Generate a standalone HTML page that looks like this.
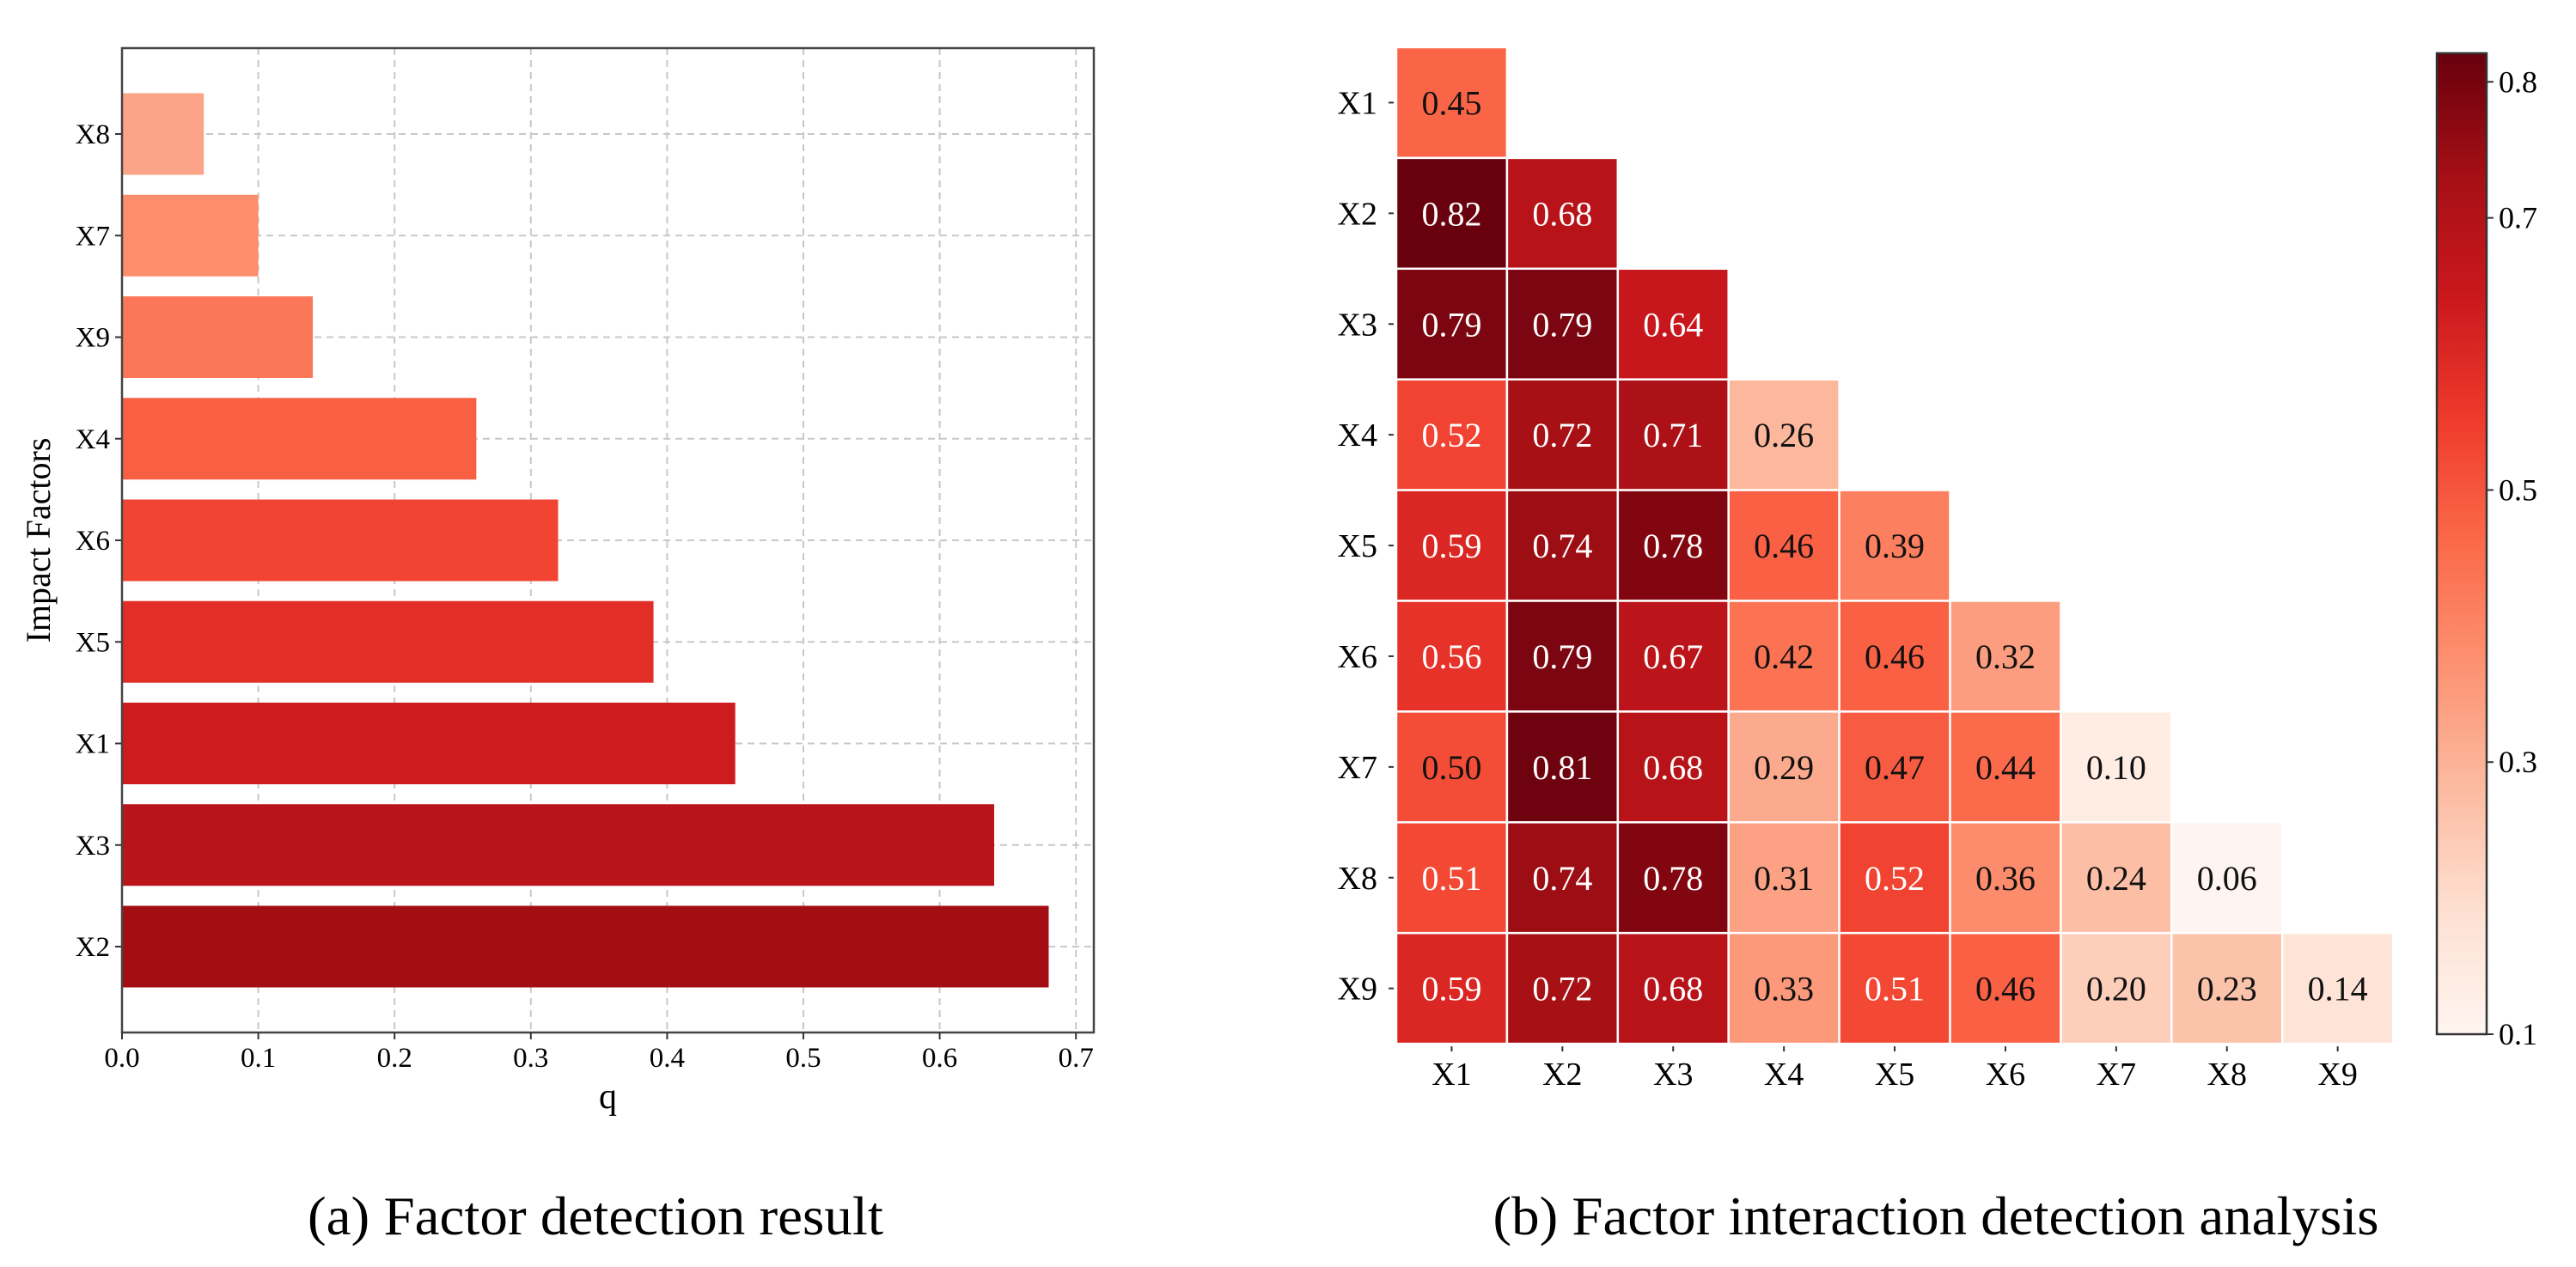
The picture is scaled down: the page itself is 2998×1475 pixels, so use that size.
<!DOCTYPE html>
<html><head><meta charset="utf-8"><style>
html,body{margin:0;padding:0;background:#fff;}
svg{display:block;font-family:"Liberation Serif",serif;}
</style></head>
<body>
<svg id="fig" width="2998" height="1475" viewBox="0 0 2998 1475" xmlns="http://www.w3.org/2000/svg">
<defs>
<linearGradient id="cbgrad" x1="0" y1="1" x2="0" y2="0">
<stop offset="0" stop-color="#fff5f0"/><stop offset="0.125" stop-color="#fee0d2"/><stop offset="0.25" stop-color="#fcbba1"/><stop offset="0.375" stop-color="#fc9272"/><stop offset="0.5" stop-color="#fb6a4a"/><stop offset="0.625" stop-color="#ef3b2c"/><stop offset="0.75" stop-color="#cb181d"/><stop offset="0.875" stop-color="#a50f15"/><stop offset="1" stop-color="#67000d"/>
</linearGradient>
</defs>
<g id="left"></g>
<g id="right"></g>
<text x="693" y="1437" font-size="64" text-anchor="middle" textLength="670" lengthAdjust="spacingAndGlyphs">(a) Factor detection  result</text>
<text x="2253" y="1437" font-size="64" text-anchor="middle" textLength="1031" lengthAdjust="spacingAndGlyphs">(b) Factor interaction detection  analysis</text>
</svg>
<script>
// ---- bar chart data ----
const barCategories = ["X8","X7","X9","X4","X6","X5","X1","X3","X2"];
const barValues = [0.06,0.10,0.14,0.26,0.32,0.39,0.45,0.64,0.68];
const xTicks = [0.0,0.1,0.2,0.3,0.4,0.5,0.6,0.7];
// ---- heatmap data ----
const hmLabels = ["X1","X2","X3","X4","X5","X6","X7","X8","X9"];
const hmRows = [
 [0.45],
 [0.82,0.68],
 [0.79,0.79,0.64],
 [0.52,0.72,0.71,0.26],
 [0.59,0.74,0.78,0.46,0.39],
 [0.56,0.79,0.67,0.42,0.46,0.32],
 [0.50,0.81,0.68,0.29,0.47,0.44,0.10],
 [0.51,0.74,0.78,0.31,0.52,0.36,0.24,0.06],
 [0.59,0.72,0.68,0.33,0.51,0.46,0.20,0.23,0.14]
];
const cbTicks = [0.8,0.7,0.5,0.3,0.1];

const NS="http://www.w3.org/2000/svg";
function mk(parent,tag,attrs,text){const e=document.createElementNS(NS,tag);for(const k in attrs)e.setAttribute(k,attrs[k]);if(text!==undefined)e.textContent=text;parent.appendChild(e);return e;}
const redsStops=["#fff5f0","#fee0d2","#fcbba1","#fc9272","#fb6a4a","#ef3b2c","#cb181d","#a50f15","#67000d"];
function hex(h){return [parseInt(h.substr(1,2),16),parseInt(h.substr(3,2),16),parseInt(h.substr(5,2),16)];}
function reds(t){t=Math.max(0,Math.min(1,t));const p=t*8;const i=Math.min(7,Math.floor(p));const f=p-i;const a=hex(redsStops[i]),b=hex(redsStops[i+1]);return "rgb("+a.map((v,k)=>Math.round(v+(b[k]-v)*f)).join(",")+")";}

// ---- left chart ----
const L=document.getElementById('left');
const axL=142,axR=1273,axT=56,axB=1202;
const xs=v=>axL+v*1586;
const rowY0=156,rowStep=118.25,barH=95;
const ys=i=>rowY0+i*rowStep;
xTicks.forEach(t=>{
  const g=mk(L,'line',{x1:xs(t),x2:xs(t),y1:axT,y2:axB,stroke:'#c8c8c8','stroke-width':2,'stroke-dasharray':'8,6'});
  
  
});
barCategories.forEach((c,i)=>{
  const g=mk(L,'line',{x1:axL,x2:axR,y1:ys(i),y2:ys(i),stroke:'#c8c8c8','stroke-width':2,'stroke-dasharray':'8,6'});
  
  
});
barCategories.forEach((c,i)=>{
  const r=mk(L,'rect',{x:axL,y:ys(i)-barH/2,width:xs(barValues[i])-axL,height:barH,fill:reds(0.32+ (i/8)*0.56)});
  
  
  mk(L,'line',{x1:axL-8,x2:axL,y1:ys(i),y2:ys(i),stroke:'#333','stroke-width':2});
  const t=mk(L,'text',{x:axL-14,y:ys(i)+11,'font-size':33,'text-anchor':'end'},c);
  
  
});
const fr=mk(L,'rect',{x:axL,y:axT,width:axR-axL,height:axB-axT,fill:'none',stroke:'#444','stroke-width':2.5});


xTicks.forEach(t=>{
  mk(L,'line',{x1:xs(t),x2:xs(t),y1:axB,y2:axB+8,stroke:'#333','stroke-width':2});
  const tl=mk(L,'text',{x:xs(t),y:axB+40,'font-size':33,'text-anchor':'middle'},t.toFixed(1));
  
  
});
const xt=mk(L,'text',{x:(axL+axR)/2,y:1290,'font-size':42,'text-anchor':'middle'},'q');


const yt=mk(L,'text',{x:0,y:0,'font-size':40,'text-anchor':'middle',transform:'translate(58,629) rotate(-90)'},'Impact Factors');



// ---- heatmap ----
const R=document.getElementById('right');
const hx0=1625,hy0=55,cell=128.9;
const vmin=0.06,vmax=0.821;
const cx=j=>hx0+j*cell, cy=i=>hy0+i*cell;
hmRows.forEach((row,i)=>{
  row.forEach((v,j)=>{
    const r=mk(R,'rect',{x:cx(j),y:cy(i),width:cell,height:cell,fill:reds((v-vmin)/(vmax-vmin)),stroke:'#fff','stroke-width':2.5});
    
    
    const t=mk(R,'text',{x:cx(j)+cell/2,y:cy(i)+cell/2+14,'font-size':40,'text-anchor':'middle',fill:v>0.505?'#fff':'#111'},v.toFixed(2));
    
    
  });
});
hmLabels.forEach((lab,i)=>{
  mk(R,'line',{x1:hx0-9,x2:hx0-3,y1:cy(i)+cell/2,y2:cy(i)+cell/2,stroke:'#333','stroke-width':2});
  const t=mk(R,'text',{x:hx0-22,y:cy(i)+cell/2+13,'font-size':38,'text-anchor':'end'},lab);
  
  
  mk(R,'line',{x1:cx(i)+cell/2,x2:cx(i)+cell/2,y1:hy0+9*cell+3,y2:hy0+9*cell+9,stroke:'#333','stroke-width':2});
  const u=mk(R,'text',{x:cx(i)+cell/2,y:hy0+9*cell+48,'font-size':38,'text-anchor':'middle'},lab);
  
  
});
// colorbar
const cbx=2836,cbw=58,cbTop=62,cbBot=1204;
const cbScaleMin=0.1,cbScaleMax=0.821;
const cby=v=>cbBot-(v-cbScaleMin)/(cbScaleMax-cbScaleMin)*(cbBot-cbTop);
const cb=mk(R,'rect',{x:cbx,y:cbTop,width:cbw,height:cbBot-cbTop,fill:'url(#cbgrad)',stroke:'#333','stroke-width':2.5});


cbTicks.forEach(t=>{
  mk(R,'line',{x1:cbx+cbw,x2:cbx+cbw+8,y1:cby(t),y2:cby(t),stroke:'#333','stroke-width':2});
  const l=mk(R,'text',{x:cbx+cbw+14,y:cby(t)+12,'font-size':36},t.toFixed(1));
  
  
});
</script>
</body></html>
